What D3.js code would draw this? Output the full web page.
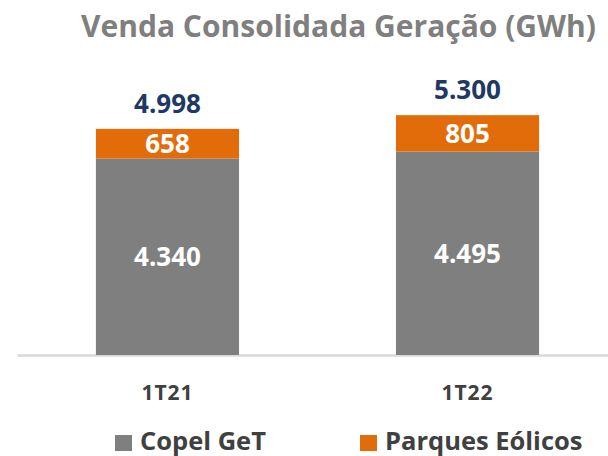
<!DOCTYPE html>
<html>
<head>
<meta charset="utf-8">
<script src="https://cdn.jsdelivr.net/npm/d3@7"></script>
<style>
  body { margin: 0; background: #fff; }
  text { font-family: "Open Sans", sans-serif; font-weight: bold; }
</style>
</head>
<body>
<div id="chart"></div>
<script>
// values
const categories = ["1T21", "1T22"];
const copelGeT = [4340, 4495];
const parquesEolicos = [658, 805];
const totals = [4998, 5300];
const seriesNames = ["Copel GeT", "Parques Eólicos"];
const title = "Venda Consolidada Geração (GWh)";

const width = 608;
const height = 456;
const colors = { "Copel GeT": "#7f7f7f", "Parques Eólicos": "#e36c0a" };

const ptBR = d3.formatLocale({ decimal: ",", thousands: ".", grouping: [3], currency: ["R$", ""] });
const fmt = ptBR.format(",d");

const rows = categories.map((c, i) => ({
    cat: c,
    "Copel GeT": copelGeT[i],
    "Parques Eólicos": parquesEolicos[i],
    total: totals[i]
}));

const svg = d3.select("#chart")
    .append("svg")
    .attr("width", width)
    .attr("height", height);

const x = d3.scaleBand()
    .domain(categories)
    .range([17, 618])
    .paddingInner(0.523)
    .paddingOuter(0.263);

const y = d3.scaleLinear()
    .domain([0, 6000])
    .range([355, 83.5]);

svg.append("text")
    .attr("x", 338.5)
    .attr("y", 37)
    .attr("text-anchor", "middle")
    .attr("fill", "#7f7f7f")
    .style("font-size", "30px")
    .text(title);

// axis with just the baseline and category labels
const axis = svg.append("g")
    .attr("transform", `translate(0,${y(0)})`)
    .call(d3.axisBottom(x).tickSize(0).tickPadding(30));
axis.select(".domain")
    .attr("stroke", "#d9d9d9")
    .attr("stroke-width", 2.5);
axis.selectAll(".tick text")
    .attr("fill", "#404040")
    .style("font-size", "21px")
    .style("font-family", "'Open Sans', sans-serif")
    .style("font-weight", "bold")
    .style("letter-spacing", "1px");

const stacked = d3.stack().keys(seriesNames)(rows);

const layer = svg.append("g")
    .selectAll("g")
    .data(stacked)
    .enter().append("g")
    .attr("fill", d => colors[d.key]);

layer.selectAll("rect")
    .data(d => d)
    .enter().append("rect")
    .attr("x", d => x(d.data.cat))
    .attr("width", x.bandwidth())
    .attr("y", d => y(d[1]))
    .attr("height", d => y(d[0]) - y(d[1]));

layer.selectAll("text")
    .data(d => d)
    .enter().append("text")
    .attr("x", d => x(d.data.cat) + x.bandwidth() / 2)
    .attr("y", d => (y(d[0]) + y(d[1])) / 2)
    .attr("dy", "0.36em")
    .attr("text-anchor", "middle")
    .attr("fill", "#fff")
    .style("font-size", "26px")
    .text(d => fmt(d[1] - d[0]));

svg.append("g")
    .selectAll("text")
    .data(rows)
    .enter().append("text")
    .attr("x", d => x(d.cat) + x.bandwidth() / 2)
    .attr("y", d => y(d.total) - 16)
    .attr("text-anchor", "middle")
    .attr("fill", "#203864")
    .style("font-size", "26px")
    .text(d => fmt(d.total));

// legend
const legendX = [115, 360];
const legend = svg.append("g")
    .selectAll("g")
    .data(seriesNames)
    .enter().append("g")
    .attr("transform", (d, i) => `translate(${legendX[i]},435)`);

legend.append("rect")
    .attr("width", 17)
    .attr("height", 16)
    .attr("fill", d => colors[d]);

legend.append("text")
    .attr("x", 25)
    .attr("y", 15)
    .attr("fill", "#404040")
    .style("font-size", "25.5px")
    .text(d => d);
</script>
</body>
</html>
